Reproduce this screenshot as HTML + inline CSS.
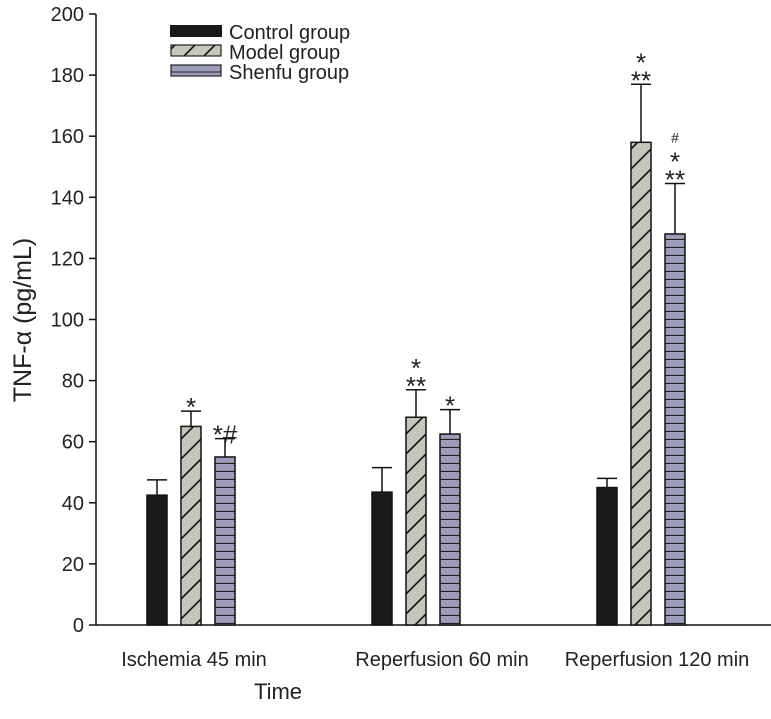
<!DOCTYPE html>
<html><head><meta charset="utf-8"><style>
body{margin:0;background:#fff}
svg text{font-family:"Liberation Sans",sans-serif;fill:#222}
</style></head><body>
<svg id="c" width="771" height="714" xmlns="http://www.w3.org/2000/svg">
<defs>
<pattern id="diag" patternUnits="userSpaceOnUse" width="20" height="20">
<rect width="20" height="20" fill="#c6c7bb"/>
<path d="M-5,25 L25,-5 M-5,5 L5,-5 M15,25 L25,15" stroke="#111" stroke-width="1.6"/>
</pattern>
<pattern id="horiz" patternUnits="userSpaceOnUse" width="10" height="8">
<rect width="10" height="8" fill="#9d9cba"/>
<line x1="0" y1="7.5" x2="10" y2="7.5" stroke="#222" stroke-width="1.2"/>
</pattern>
</defs>
<g id="axes"></g>
<g id="bars"></g>
<g>
<rect x="170" y="25" width="52" height="12" fill="#1a1a1a"/>
<text x="229" y="39" font-size="20">Control group</text>
<rect x="171" y="45" width="50" height="11" fill="url(#diag)" stroke="#222" stroke-width="1.2"/>
<text x="229" y="59" font-size="20">Model group</text>
<rect x="171" y="65" width="50" height="11" fill="#9d9cba" stroke="#222" stroke-width="1.2"/>
<line x1="171" y1="72" x2="221" y2="72" stroke="#222" stroke-width="1"/>
<text x="229" y="79" font-size="20">Shenfu group</text>
</g>
<text x="278" y="699" font-size="22" text-anchor="middle">Time</text>
<text transform="translate(31,320) rotate(-90)" font-size="25" text-anchor="middle">TNF-α (pg/mL)</text>
</svg>
<script>
const categories=["Ischemia 45 min","Reperfusion 60 min","Reperfusion 120 min"];
const controlVals=[42.5,43.5,45];
const controlErr=[5,8,3];
const modelVals=[65,68,158];
const modelErr=[5,9,19];
const shenfuVals=[55,62.5,128];
const shenfuErr=[6,8,16.5];
const modelMarks=[["*"],["*","**"],["*","**"]];
const shenfuMarks=[["*#"],["*"],["#","*","**"]];
const yTicks=[0,20,40,60,80,100,120,140,160,180,200];
const NS="http://www.w3.org/2000/svg";
const y=v=>625-v*3.055;
const groupX=i=>147+i*225;
const labelX=[194,442,657];
const ax=document.getElementById('axes'),bg=document.getElementById('bars');
function mk(t,a,p){const e=document.createElementNS(NS,t);for(const k in a)e.setAttribute(k,a[k]);p.appendChild(e);return e;}
let e=mk('line',{x1:96,y1:14,x2:96,y2:625,stroke:'#111','stroke-width':1.5},ax);


e=mk('line',{x1:96,y1:625,x2:771,y2:625,stroke:'#111','stroke-width':1.5},ax);


yTicks.forEach(t=>{
 mk('line',{x1:89,x2:96,y1:y(t),y2:y(t),stroke:'#111','stroke-width':1.5},ax);
 const tx=mk('text',{x:84,y:y(t)+7,'font-size':20,'text-anchor':'end'},ax);tx.textContent=t;
 
 
});
categories.forEach((c,i)=>{
 const tx=mk('text',{x:labelX[i],y:666,'font-size':20,'text-anchor':'middle'},ax);tx.textContent=c;
 
 
 const series=[[controlVals,controlErr,'#1a1a1a',null,'control'],[modelVals,modelErr,'url(#diag)',modelMarks,'model'],[shenfuVals,shenfuErr,'url(#horiz)',shenfuMarks,'shenfu']];
 series.forEach((s,j)=>{
  const x0=groupX(i)+j*34,w=20,v=s[0][i],er=s[1][i];
  const bx=x0+w/2;
  mk('line',{x1:bx,x2:bx,y1:y(v),y2:y(v+er),stroke:'#111','stroke-width':1.5},bg);
  mk('line',{x1:bx-10,x2:bx+10,y1:y(v+er),y2:y(v+er),stroke:'#111','stroke-width':1.5},bg);
  const r=mk('rect',{x:x0,y:y(v),width:w,height:625-y(v),fill:s[2],stroke:'#111','stroke-width':1.5},bg);
  
  
  if(s[3]){const m=s[3][i];let yy=y(v+er)-5;
   for(let k=m.length-1;k>=0;k--){const t=mk('text',{x:bx,y:yy+(m[k]=='#'?0:10),'font-size':m[k]=='#'?14:26,'text-anchor':'middle'},bg);t.textContent=m[k];
    
    
    yy-=m[k]=='#'?14:18;}
  }
 });
});
</script>
</body></html>
